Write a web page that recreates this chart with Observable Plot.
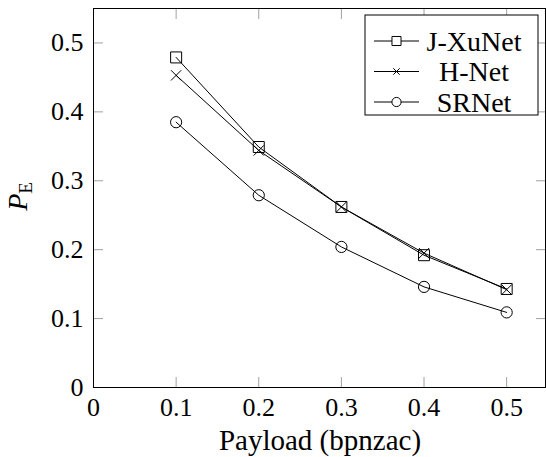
<!DOCTYPE html>
<html><head><meta charset="utf-8">
<script src="https://cdn.jsdelivr.net/npm/d3@7"></script>
<script src="https://cdn.jsdelivr.net/npm/@observablehq/plot@0.6"></script>
<style>
body{margin:0;background:#fff}
#chart{position:relative;width:546px;height:457px}
#chart svg text{font-family:"Liberation Serif",serif !important}
</style>
</head><body><div id="chart"></div>
<script>
// Data
const payload = [0.1, 0.2, 0.3, 0.4, 0.5];
const jxunet  = [0.479, 0.349, 0.262, 0.192, 0.143];
const hnet    = [0.453, 0.344, 0.262, 0.195, 0.142];
const srnet   = [0.385, 0.279, 0.204, 0.146, 0.109];
const seriesNames = ["J-XuNet", "H-Net", "SRNet"];
const seriesSymbols = ["square", "times", "circle"];
const xTicks = [0, 0.1, 0.2, 0.3, 0.4, 0.5];
const yTicks = [0, 0.1, 0.2, 0.3, 0.4, 0.5];
const xLabel = "Payload (bpnzac)";
const yLabelMain = "P";
const yLabelSub = "E";

(function () {
const rows = [];
[jxunet, hnet, srnet].forEach((vals, i) =>
  vals.forEach((v, j) => rows.push({series: seriesNames[i], x: payload[j], y: v})));

const font = "Liberation Serif";
const fmt = d => d === 0 ? "0" : d3.format(".1f")(d);
const symR = {"square": 6.2, "times": 4.75, "circle": 5.6};

const plot = Plot.plot({
  width: 546, height: 457,
  marginLeft: 93, marginRight: 1, marginTop: 8, marginBottom: 70,
  style: {fontFamily: font, fontSize: "26px", background: "white", color: "black"},
  x: {domain: [0, 0.547]},
  y: {domain: [0, 0.55]},
  marks: [
    Plot.axisX({ticks: xTicks, tickSize: -10, tickPadding: 20, stroke: "#a0a0a0", fill: "black", tickFormat: fmt, label: null}),
    Plot.axisX({anchor: "top", ticks: xTicks, tickSize: -10, stroke: "#a0a0a0", tickFormat: () => "", label: null}),
    Plot.axisY({ticks: yTicks, tickSize: -10, tickPadding: 20, stroke: "#a0a0a0", fill: "black", tickFormat: fmt, label: null}),
    Plot.axisY({anchor: "right", ticks: yTicks, tickSize: -10, stroke: "#a0a0a0", tickFormat: () => "", label: null}),
    Plot.frame({stroke: "black", strokeWidth: 1}),
    Plot.line(rows, {x: "x", y: "y", z: "series", stroke: "black", strokeWidth: 1}),
    ...seriesNames.map((s, i) =>
      Plot.dot(rows.filter(d => d.series === s), {x: "x", y: "y", symbol: () => seriesSymbols[i],
        r: symR[seriesSymbols[i]], stroke: "black", fill: "none", strokeWidth: 1}))
  ]
});
document.getElementById("chart").appendChild(plot);

const svg = d3.select(plot);
const xr = plot.scale("x").range, yr = plot.scale("y").range;
const pLeft = xr[0], pRight = xr[1], pBottom = yr[0], pTop = yr[1];

// x label
svg.append("text").attr("x", (pLeft + pRight) / 2 + 1).attr("y", pBottom + 63)
  .attr("text-anchor", "middle").style("font-size", "29px")
  .text(xLabel);

// y label (rotated)
const yl = svg.append("text")
  .attr("transform", `translate(${pLeft - 66},${(pTop + pBottom) / 2 - 1}) rotate(-90)`)
  .attr("text-anchor", "middle").style("font-size", "28px");
yl.append("tspan").style("font-style", "italic").text(yLabelMain);
yl.append("tspan").attr("dy", 5).style("font-size", "19px").text(yLabelSub);

// legend
const lg = svg.append("g");
const lx0 = pRight - 180, ly0 = pTop + 7, lw = 173, lh = 100;
lg.append("rect").attr("x", lx0).attr("y", ly0).attr("width", lw).attr("height", lh)
  .attr("fill", "white").attr("stroke", "black").attr("stroke-width", 1);
const legR = {"square": 5.1, "times": 3.0, "circle": 4.6};
const symMap = {"square": d3.symbolSquare, "times": d3.symbolTimes, "circle": d3.symbolCircle};
seriesNames.forEach((s, i) => {
  const cy = ly0 + 26 + i * 30.5;
  lg.append("line").attr("x1", lx0 + 9).attr("x2", lx0 + 54).attr("y1", cy).attr("y2", cy)
    .attr("stroke", "black").attr("stroke-width", 1);
  const r = legR[seriesSymbols[i]];
  lg.append("path").attr("transform", `translate(${lx0 + 31.5},${cy})`)
    .attr("d", d3.symbol(symMap[seriesSymbols[i]], r * r * Math.PI)())
    .attr("fill", seriesSymbols[i] === "times" ? "none" : "white").attr("stroke", "black").attr("stroke-width", 1);
  lg.append("text").attr("x", lx0 + 109).attr("y", cy).attr("dy", "0.34em")
    .attr("text-anchor", "middle").style("font-size", "28px").text(s);
});
})();
</script>
</body></html>
